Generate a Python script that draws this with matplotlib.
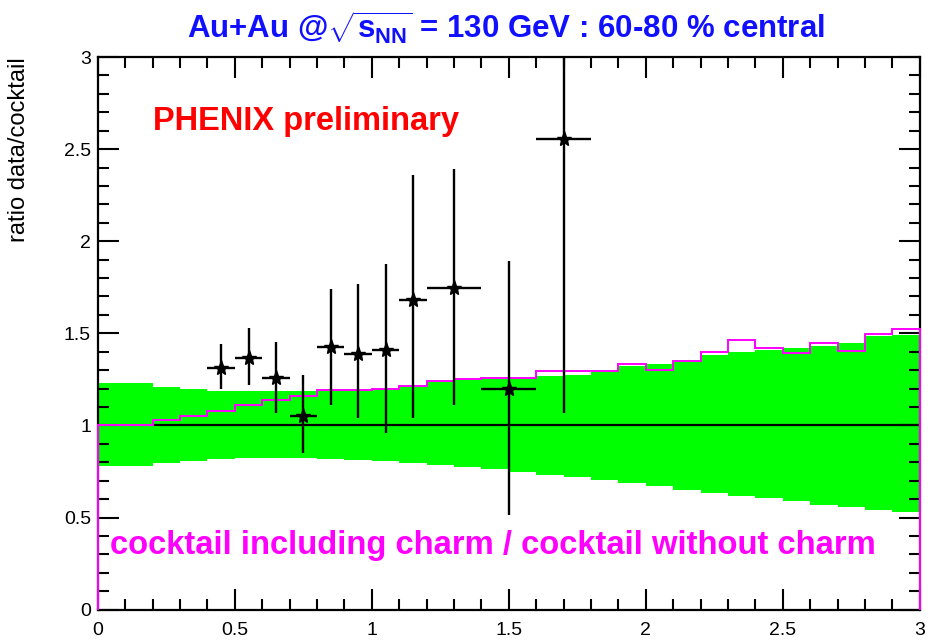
import matplotlib
matplotlib.use("Agg")
import matplotlib.pyplot as plt
import numpy as np
from matplotlib.ticker import MultipleLocator

# bin edges of the cocktail histograms (0.1 GeV/c bins)
edges = np.round(np.arange(0, 3.01, 0.1), 2)

# systematic band of the cocktail ratio (upper / lower edge per bin)
band_hi = [1.23, 1.23, 1.21, 1.197, 1.185, 1.185, 1.185, 1.185, 1.19, 1.19,
           1.20, 1.21, 1.235, 1.245, 1.25, 1.26, 1.27, 1.275, 1.29, 1.32,
           1.335, 1.356, 1.384, 1.396, 1.411, 1.42, 1.432, 1.45, 1.483, 1.492]
band_lo = [0.778, 0.778, 0.796, 0.808, 0.82, 0.823, 0.823, 0.823, 0.82, 0.81,
           0.805, 0.796, 0.785, 0.775, 0.763, 0.745, 0.732, 0.718, 0.705, 0.687,
           0.669, 0.651, 0.633, 0.619, 0.606, 0.588, 0.570, 0.557, 0.543, 0.528]

# cocktail including charm / cocktail without charm
charm_ratio = [1.0, 1.0, 1.03, 1.05, 1.08, 1.11, 1.14, 1.16, 1.19, 1.19,
               1.20, 1.215, 1.24, 1.25, 1.255, 1.26, 1.293, 1.293, 1.293, 1.335,
               1.30, 1.347, 1.40, 1.465, 1.42, 1.393, 1.45, 1.405, 1.498, 1.523]

# data / cocktail points
pt = [0.45, 0.55, 0.65, 0.75, 0.85, 0.95, 1.05, 1.15, 1.3, 1.5, 1.7]
pt_err = [0.05, 0.05, 0.05, 0.05, 0.05, 0.05, 0.05, 0.05, 0.1, 0.1, 0.1]
ratio = [1.31, 1.365, 1.255, 1.05, 1.425, 1.39, 1.41, 1.68, 1.745, 1.195, 2.555]
ratio_lo = [1.20, 1.22, 1.065, 0.85, 1.11, 1.04, 0.96, 1.04, 1.11, 0.515, 1.07]
ratio_hi = [1.44, 1.53, 1.455, 1.275, 1.74, 1.77, 1.875, 2.36, 2.39, 1.89, 4.1]

plt.rcParams['font.family'] = ['Liberation Sans', 'DejaVu Sans']
plt.rcParams['mathtext.fontset'] = 'custom'
plt.rcParams['mathtext.rm'] = 'Liberation Sans:bold'
plt.rcParams['mathtext.it'] = 'Liberation Sans:bold'
plt.rcParams['mathtext.bf'] = 'Liberation Sans:bold'

fig = plt.figure(figsize=(9.32, 6.41), dpi=100)
ax = fig.add_axes([0.105, 0.049, 0.882, 0.862])

ax.stairs(band_hi, edges, baseline=band_lo, fill=True, color='#00ff00', lw=0)
ax.stairs(charm_ratio, edges, baseline=0, color='#ff00ff', lw=1.4,
          zorder=5, clip_on=False)
ax.hlines(1, 0.2, 3, color='black', lw=1.6, zorder=4)

y = np.array(ratio)
yerr = [y - np.array(ratio_lo), np.array(ratio_hi) - y]
ax.errorbar(pt, ratio, xerr=pt_err, yerr=yerr, fmt='*', color='black',
            ms=11, elinewidth=1.7, capsize=0, zorder=6)

ax.set_xlim(0, 3)
ax.set_ylim(0, 3)
ax.xaxis.set_major_locator(MultipleLocator(0.5))
ax.xaxis.set_minor_locator(MultipleLocator(0.1))
ax.yaxis.set_major_locator(MultipleLocator(0.5))
ax.yaxis.set_minor_locator(MultipleLocator(0.1))
ax.xaxis.set_major_formatter(plt.FuncFormatter(lambda v, p: f'{v:g}'))
ax.yaxis.set_major_formatter(plt.FuncFormatter(lambda v, p: f'{v:g}'))
ax.tick_params(which='both', direction='in', top=True, right=True,
               width=1.5, labelsize=14, colors='black')
ax.tick_params(which='major', length=15)
ax.tick_params(which='minor', length=8)
ax.tick_params(axis='x', pad=9)
ax.tick_params(axis='y', pad=5)
for s in ax.spines.values():
    s.set_linewidth(1.6)

ax.set_ylabel('ratio data/cocktail', fontsize=17, loc='top')
ax.yaxis.set_label_coords(-0.082, 1.0)

fig.text(0.543, 0.957, r'Au+Au @$\sqrt{s_{NN}}$ = 130 GeV : 60-80 % central',
         ha='center', va='center', color='#1010ff', fontsize=22.5, fontweight='bold')
ax.text(0.2, 2.65, 'PHENIX preliminary', color='red', fontsize=23.5,
        fontweight='bold', va='center')
ax.text(0.044, 0.35, 'cocktail including charm / cocktail without charm',
        color='#ff00ff', fontsize=23.6, fontweight='bold', va='center')

fig.savefig('out.png', dpi=100)
